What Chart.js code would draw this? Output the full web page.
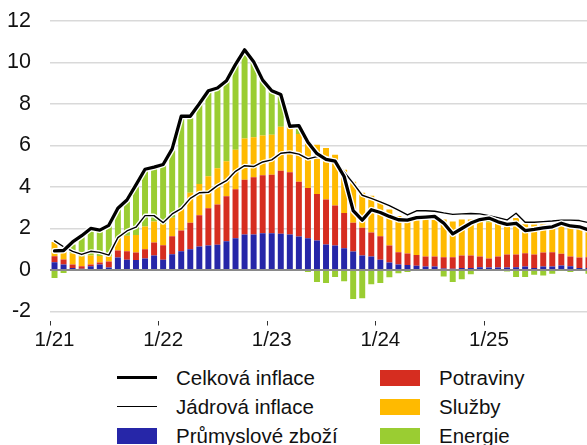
<!DOCTYPE html>
<html>
<head>
<meta charset="utf-8">
<script src="https://cdn.jsdelivr.net/npm/chart.js@4.4.1/dist/chart.umd.min.js"></script>
<style>
  html, body { margin: 0; padding: 0; background: #fff; overflow: hidden; }
  body { width: 587px; height: 445px; position: relative; font-family: "Liberation Sans", Arial, sans-serif; }
  #wrap { position: absolute; left: 0; top: 0; width: 593px; height: 356px; }
  #legend { position: absolute; left: 117px; top: 363px; display: grid; grid-template-columns: 263px 200px; grid-template-rows: repeat(3, 29px); grid-auto-flow: column; }
  .item { display: flex; align-items: center; font-size: 20.5px; color: #111; white-space: nowrap; }
  .mark { width: 40px; margin-right: 19px; }
</style>
</head>
<body>
<div id="wrap"><canvas id="chart" width="593" height="356"></canvas></div>
<div id="legend"></div>
<script>
// mesice 1/21 .. 12/25
const years = ['21', '22', '23', '24', '25'];
const months = [];
years.forEach(y => { for (let m = 1; m <= 12; m++) months.push(m + '/' + y); });
const yTicks = [-2, 0, 2, 4, 6, 8, 10, 12];

const prumysl = [
	0.37, 0.27, 0.10, 0.06, 0.18, 0.26, 0.12, 0.60, 0.50, 0.48, 0.56, 0.70,
	0.50, 0.76, 0.90, 1.00, 1.13, 1.18, 1.21, 1.39, 1.53, 1.71, 1.71, 1.77,
	1.77, 1.75, 1.71, 1.61, 1.53, 1.42, 1.23, 1.18, 1.05, 0.89, 0.70, 0.65,
	0.50, 0.36, 0.26, 0.24, 0.20, 0.17, 0.17, 0.07, 0.06, 0.10, 0.10, 0.13,
	0.12, 0.12, 0.12, 0.13, 0.17, 0.10, 0.17, 0.17, 0.22, 0.18, 0.10, 0.10
];
const potraviny = [
	0.29, 0.24, 0.17, 0.12, 0.08, 0.10, 0.29, 0.34, 0.40, 0.36, 0.44, 0.63,
	0.69, 0.86, 1.00, 1.28, 1.50, 1.79, 1.94, 2.16, 2.36, 2.64, 2.75, 2.79,
	2.82, 3.03, 2.99, 2.64, 2.42, 2.24, 2.16, 1.92, 1.70, 1.38, 1.34, 1.15,
	1.12, 0.82, 0.60, 0.56, 0.52, 0.48, 0.48, 0.54, 0.55, 0.60, 0.60, 0.52,
	0.44, 0.53, 0.63, 0.62, 0.64, 0.65, 0.67, 0.68, 0.56, 0.47, 0.50, 0.52
];
const sluzby = [
	0.69, 0.44, 0.52, 0.47, 0.44, 0.31, 0.24, 0.56, 0.75, 0.84, 1.10, 1.00,
	1.01, 0.90, 1.10, 1.44, 1.51, 1.54, 1.75, 1.68, 1.90, 1.98, 1.93, 1.91,
	1.92, 2.12, 2.25, 2.30, 2.20, 2.37, 2.48, 2.45, 2.07, 1.98, 1.68, 1.78,
	1.70, 1.73, 1.74, 1.58, 1.69, 1.76, 1.76, 1.82, 1.72, 1.73, 1.73, 1.70,
	1.74, 1.61, 1.35, 1.75, 1.39, 1.44, 1.35, 1.27, 1.34, 1.38, 1.42, 1.33
];
const energie = [
	-0.38, -0.14, 0.44, 0.93, 1.20, 1.18, 1.47, 1.44, 1.65, 2.30, 2.68, 2.55,
	2.84, 3.25, 4.38, 3.58, 3.88, 4.04, 3.86, 3.88, 4.09, 4.14, 3.68, 2.72,
	2.12, 1.57, 0.05, 0.24, -0.10, -0.58, -0.63, -0.34, -0.54, -1.40, -1.36, -0.69,
	-0.63, -0.35, -0.15, -0.10, 0.00, 0.02, 0.00, -0.31, -0.58, -0.45, -0.20, 0.00,
	0.08, 0.00, -0.07, -0.34, -0.34, -0.23, -0.26, -0.18, -0.04, -0.10, 0.00, -0.18
];
const celkova = [
	0.92, 0.94, 1.35, 1.65, 2.00, 1.92, 2.15, 2.97, 3.37, 4.10, 4.85, 4.95,
	5.08, 5.83, 7.40, 7.40, 8.00, 8.63, 8.76, 9.11, 9.90, 10.60, 10.03, 9.14,
	8.63, 8.45, 6.92, 6.95, 6.15, 5.60, 5.32, 5.24, 4.50, 2.86, 2.40, 2.90,
	2.77, 2.58, 2.42, 2.40, 2.52, 2.55, 2.58, 2.26, 1.74, 2.00, 2.26, 2.43,
	2.50, 2.32, 2.20, 2.25, 1.90, 1.96, 2.03, 2.08, 2.25, 2.12, 2.08, 1.93
];
const jadrova = [
	1.40, 1.12, 0.90, 0.75, 0.90, 0.85, 0.72, 1.56, 1.88, 2.06, 2.62, 2.62,
	2.28, 2.70, 2.95, 3.45, 3.72, 3.74, 4.06, 4.30, 4.75, 5.02, 4.98, 5.20,
	5.30, 5.62, 5.67, 5.58, 5.35, 5.46, 5.40, 5.26, 4.72, 4.18, 3.60, 3.45,
	3.28, 3.10, 2.88, 2.65, 2.85, 2.85, 2.83, 2.75, 2.68, 2.70, 2.72, 2.70,
	2.62, 2.52, 2.41, 2.73, 2.30, 2.30, 2.33, 2.36, 2.40, 2.40, 2.38, 2.28
];

const barNames = ['Průmyslové zboží', 'Potraviny', 'Služby', 'Energie'];
const barColors = ['#2626a8', '#d62d20', '#ffba00', '#9acd32'];
const lineNames = ['Celková inflace', 'Jádrová inflace'];

Chart.defaults.font.family = '"Liberation Sans", Arial, sans-serif';
Chart.defaults.font.size = 20.5;
Chart.defaults.color = '#111';

const line_settings = {
	type: 'line',
	fill: false,
	tension: 0,
	pointRadius: 0,
	borderJoinStyle: 'round',
	borderCapStyle: 'round'
};

const bar_settings = {
	type: 'bar',
	stack: 'bars',
	barPercentage: 0.66,
	categoryPercentage: 1,
	borderWidth: 0
};

const datasets = [
	{ label: lineNames[0], data: celkova, borderColor: '#000', borderWidth: 3.3, order: -4, stack: 'l1', ...line_settings },
	{ label: 'halo1', data: celkova, borderColor: '#fff', borderWidth: 6, order: -3, stack: 'l2', ...line_settings },
	{ label: lineNames[1], data: jadrova, borderColor: '#000', borderWidth: 1.4, order: -2, stack: 'l3', ...line_settings },
	{ label: 'halo2', data: jadrova, borderColor: '#fff', borderWidth: 4, order: -1, stack: 'l4', ...line_settings },
	{ label: barNames[0], data: prumysl, backgroundColor: barColors[0], ...bar_settings },
	{ label: barNames[1], data: potraviny, backgroundColor: barColors[1], ...bar_settings },
	{ label: barNames[2], data: sluzby, backgroundColor: barColors[2], ...bar_settings },
	{ label: barNames[3], data: energie, backgroundColor: barColors[3], ...bar_settings }
];

const chart = new Chart(document.getElementById('chart').getContext('2d'), {
	type: 'bar',
	data: { labels: months, datasets: datasets },
	options: {
		responsive: false,
		animation: false,
		devicePixelRatio: 1,
		layout: { padding: { top: 20.7, left: 0, right: 0, bottom: 0 } },
		plugins: {
			legend: { display: false },
			tooltip: { enabled: false }
		},
		scales: {
			x: {
				stacked: true,
				offset: true,
				afterFit: (s) => { s.height = 35.5; },
				border: { display: false },
				grid: {
					drawOnChartArea: false,
					drawTicks: true,
					tickLength: 5,
					tickWidth: 1,
					tickColor: (c) => (c.index % 12 === 0 ? '#333' : 'rgba(0,0,0,0)')
				},
				ticks: {
					autoSkip: false,
					maxRotation: 0,
					padding: 3,
					callback: (v, i) => (i % 12 === 0 ? months[i] : '')
				}
			},
			y: {
				stacked: true,
				min: -2.43,
				max: 12,
				afterBuildTicks: (s) => { s.ticks = yTicks.map(v => ({ value: v })); },
				afterFit: (s) => { s.width = 50; s.paddingTop = 0; s.paddingBottom = 0; },
				border: { display: false },
				grid: {
					drawTicks: false,
					color: (c) => (c.tick && c.tick.value === 0 ? '#8a8a8a' : '#d9d9d9'),
					lineWidth: (c) => (c.tick && c.tick.value === 0 ? 2 : 1.5)
				},
				ticks: { padding: 19, font: { size: 21.5 } }
			}
		}
	}
});

// legenda ve dvou sloupcich
const legend = document.getElementById('legend');
const items = [
	{ text: lineNames[0], line: 3.3 },
	{ text: lineNames[1], line: 1.4 },
	{ text: barNames[0], color: barColors[0] },
	{ text: barNames[1], color: barColors[1] },
	{ text: barNames[2], color: barColors[2] },
	{ text: barNames[3], color: barColors[3] }
];
items.forEach(it => {
	const d = document.createElement('div');
	d.className = 'item';
	const m = document.createElement('span');
	m.className = 'mark';
	if (it.line) {
		m.style.height = it.line + 'px';
		m.style.background = '#000';
	} else {
		m.style.height = '16px';
		m.style.background = it.color;
	}
	const t = document.createElement('span');
	t.textContent = it.text;
	d.appendChild(m);
	d.appendChild(t);
	legend.appendChild(d);
});
</script>
</body>
</html>
